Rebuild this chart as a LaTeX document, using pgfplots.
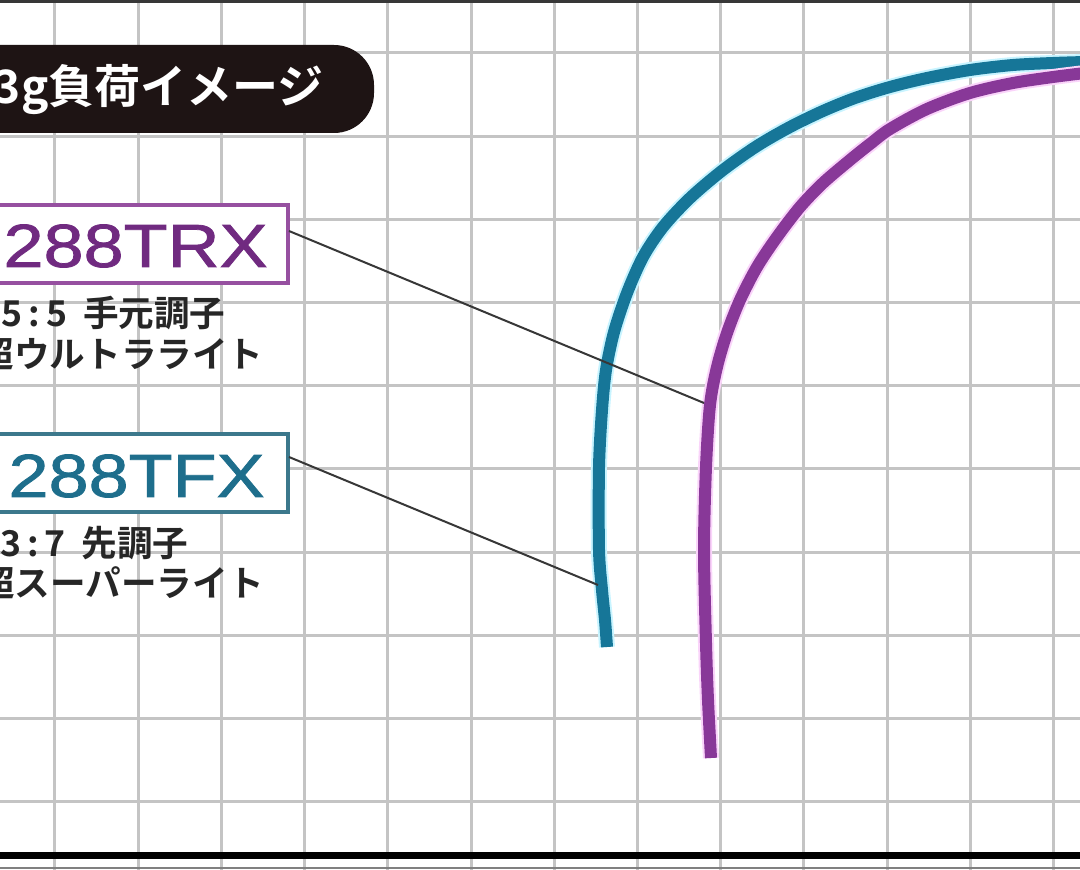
\documentclass[border=0pt]{standalone}
\usepackage{pgfplots}
\pgfplotsset{compat=1.18}
\usepackage{fontspec}
\usepackage{graphicx}
\setmainfont{Liberation Sans}
\newfontfamily\jp{Noto Sans CJK JP}[BoldFont={Noto Sans CJK JP Bold}]
\newfontfamily\modelfont{Liberation Sans}[FakeBold=1.2]

\definecolor{tfxline}{RGB}{22,118,152}
\definecolor{trxline}{RGB}{136,56,152}
\definecolor{tfxglow}{RGB}{200,244,255}
\definecolor{trxglow}{RGB}{250,212,250}
\definecolor{tfxtext}{RGB}{30,110,140}
\definecolor{trxtext}{RGB}{112,42,128}
\definecolor{tfxbox}{RGB}{60,120,140}
\definecolor{trxbox}{RGB}{150,80,160}
\definecolor{gridgray}{RGB}{196,196,196}
\definecolor{labelbg}{RGB}{30,20,20}
\definecolor{leader}{RGB}{55,55,55}

\begin{document}
\begin{tikzpicture}
\useasboundingbox (0,0) rectangle (540pt,435pt);
\clip (0,0) rectangle (540pt,435pt);
\fill[white] (0,0) rectangle (540pt,435pt);
\begin{axis}[
    at={(0,0)}, anchor=south west,
    width=540pt, height=435pt, scale only axis,
    xmin=0, xmax=1080, ymin=0, ymax=870, y dir=reverse,
    axis line style={draw=none}, tick style={draw=none},
    xtick={55,138.2,...,1060}, ytick={53,136.2,...,810},
    xticklabels={}, yticklabels={},
    grid=major, major grid style={gridgray, line width=1.5pt},
    clip=false,
  ]

  % frame lines
  \draw[leader, line width=1.5pt] (axis cs:0,1.5) -- (axis cs:1080,1.5);
  \draw[black, line width=3.5pt] (axis cs:0,855) -- (axis cs:1080,855);
  \draw[gray, line width=0.8pt] (axis cs:0,868) -- (axis cs:1080,868);

  \pgfplotsset{curve/.style={smooth, line cap=butt}}

  % 288TFX (teal)
  \addplot[tfxglow, line width=8pt, curve] coordinates {
    (1085,62) (1053,63) (1013,65) (970,70) (927,78) (890,87) (855,98)
    (823,111) (790,127) (757,146) (723,170) (690,198) (663,227) (643,257)
    (627,293) (614,332) (606,370) (602,410) (599,467) (599,550) (602,590)
    (605,620) (607,647)
  };
  \addplot[tfxline, line width=6pt, curve] coordinates {
    (1085,62) (1053,63) (1013,65) (970,70) (927,78) (890,87) (855,98)
    (823,111) (790,127) (757,146) (723,170) (690,198) (663,227) (643,257)
    (627,293) (614,332) (606,370) (602,410) (599,467) (599,550) (602,590)
    (605,620) (607,647)
  };

  % 288TRX (purple)
  \addplot[trxglow, line width=8pt, curve] coordinates {
    (1085,73) (1053,77) (1013,83) (970,93) (927,109) (890,129) (870,144)
    (850,160) (823,183) (800,207) (777,237) (757,267) (740,300) (727,333)
    (717,367) (710,405) (706,467) (704,550) (706,643) (708,700) (711,758)
  };
  \addplot[trxline, line width=6pt, curve] coordinates {
    (1085,73) (1053,77) (1013,83) (970,93) (927,109) (890,129) (870,144)
    (850,160) (823,183) (800,207) (777,237) (757,267) (740,300) (727,333)
    (717,367) (710,405) (706,467) (704,550) (706,643) (708,700) (711,758)
  };

  % title label
  \fill[labelbg, rounded corners=20pt] (axis cs:-80,45) rectangle (axis cs:374,133);
  \node[anchor=east, inner sep=0, text=white] at (axis cs:324,90)
    {\jp\bfseries\fontsize{23}{23}\selectfont 3g負荷イメージ};

  % 288TRX box
  \draw[trxbox, line width=2pt, fill=white] (axis cs:-40,205) rectangle (axis cs:288,283);
  \node[anchor=east, inner sep=0, text=trxtext] at (axis cs:268,246)
    {\scalebox{1.18}[1]{\modelfont\fontsize{30.5}{30.5}\selectfont 288TRX}};
  \node[anchor=east, inner sep=0, text=black!85] at (axis cs:226,313)
    {\jp\bfseries\fontsize{17.8}{17.8}\selectfont 5\kern3pt:\kern3pt5\kern8pt手元調子};
  \node[anchor=east, inner sep=0, text=black!85] at (axis cs:264,354)
    {\jp\bfseries\fontsize{17.8}{17.8}\selectfont 超ウルトラライト};

  % 288TFX box
  \draw[tfxbox, line width=2pt, fill=white] (axis cs:-40,434) rectangle (axis cs:288,512);
  \node[anchor=east, inner sep=0, text=tfxtext] at (axis cs:265,476)
    {\scalebox{1.18}[1]{\modelfont\fontsize{30.5}{30.5}\selectfont 288TFX}};
  \node[anchor=east, inner sep=0, text=black!85] at (axis cs:189,543)
    {\jp\bfseries\fontsize{17.8}{17.8}\selectfont 3\kern3pt:\kern3pt7\kern8pt先調子};
  \node[anchor=east, inner sep=0, text=black!85] at (axis cs:264,583)
    {\jp\bfseries\fontsize{17.8}{17.8}\selectfont 超スーパーライト};

  % leader lines
  \draw[leader, line width=1pt] (axis cs:289,231) -- (axis cs:704,403);
  \draw[leader, line width=1pt] (axis cs:289,457) -- (axis cs:598,585);

\end{axis}
\end{tikzpicture}
\end{document}
